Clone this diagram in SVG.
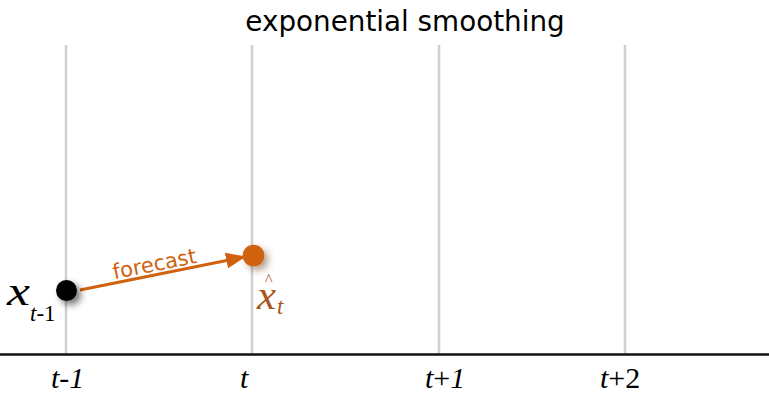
<svg xmlns="http://www.w3.org/2000/svg" width="769" height="402" viewBox="0 0 769 402">
<style>
.grid{stroke:#cfcfcf;stroke-width:2.5}
.axis{stroke:#111;stroke-width:2.5}
.tick{font-family:"Liberation Serif",serif;font-style:italic;font-size:30px;fill:#000}
.title{font-family:"DejaVu Sans",Verdana,sans-serif;font-size:27.8px;fill:#000}
.orange{fill:#d0620f}
.lbl{font-family:"DejaVu Sans",Verdana,sans-serif;font-size:21px;fill:#d0620f}
.mx{font-family:"Liberation Serif","Times New Roman",serif;font-style:italic;font-size:40px}
.ms{font-family:"Liberation Serif","Times New Roman",serif;font-size:23px}
</style>
<defs>
<filter id="sh" x="-100%" y="-100%" width="300%" height="300%">
<feDropShadow dx="4" dy="4" stdDeviation="3.5" flood-color="#000" flood-opacity="0.55"/>
</filter>
<filter id="sh2" x="-100%" y="-100%" width="300%" height="300%">
<feDropShadow dx="4" dy="4" stdDeviation="3.5" flood-color="#5a2a00" flood-opacity="0.45"/>
</filter>
<marker id="arrh" markerWidth="20" markerHeight="16" refX="18" refY="8" orient="auto" markerUnits="userSpaceOnUse" viewBox="0 0 20 16">
<path d="M0,0 L20,8 L0,16 Z" fill="#d0620f"/>
</marker>
</defs>
<text class="title" x="405" y="31" text-anchor="middle">exponential smoothing</text>
<g id="grid">
<line class="grid" x1="66" y1="45" x2="66" y2="354"/>
<line class="grid" x1="252" y1="45" x2="252" y2="354"/>
<line class="grid" x1="439" y1="45" x2="439" y2="354"/>
<line class="grid" x1="625" y1="45" x2="625" y2="354"/>
</g>
<g id="axis">
<line class="axis" x1="0" y1="354.5" x2="769" y2="354.5"/>
<text class="tick" x="51" y="388">t-1</text>
<text class="tick" x="240" y="388">t</text>
<text class="tick" x="425" y="388">t<tspan font-style="normal">+</tspan>1</text>
<text class="tick" x="600" y="388">t<tspan font-style="normal">+2</tspan></text>
</g>
<g id="connectors">
<line x1="80" y1="290" x2="244" y2="257" stroke="#d0620f" stroke-width="3" marker-end="url(#arrh)"/>
<text class="lbl" x="156" y="271" text-anchor="middle" transform="rotate(-11.3 156 271)">forecast</text>
</g>
<g id="node-xt1">
<circle cx="66.5" cy="290.5" r="10.5" fill="#000" filter="url(#sh)"/>
<text class="mx" x="7" y="305" fill="#000" textLength="23" lengthAdjust="spacingAndGlyphs">x</text>
<text class="ms" x="30" y="321" fill="#000"><tspan font-style="italic">t</tspan>-1</text>
</g>
<g id="node-xhat">
<circle cx="253.5" cy="255.5" r="10.8" class="orange" filter="url(#sh2)"/>
<text class="mx" x="257" y="309" fill="#a8561c" textLength="19" lengthAdjust="spacingAndGlyphs">x</text>
<text class="ms" x="265" y="285" fill="#a8561c" style="font-size:16px">^</text>
<text class="ms" x="277" y="314" fill="#a8561c" style="font-style:italic">t</text>
</g>
</svg>
